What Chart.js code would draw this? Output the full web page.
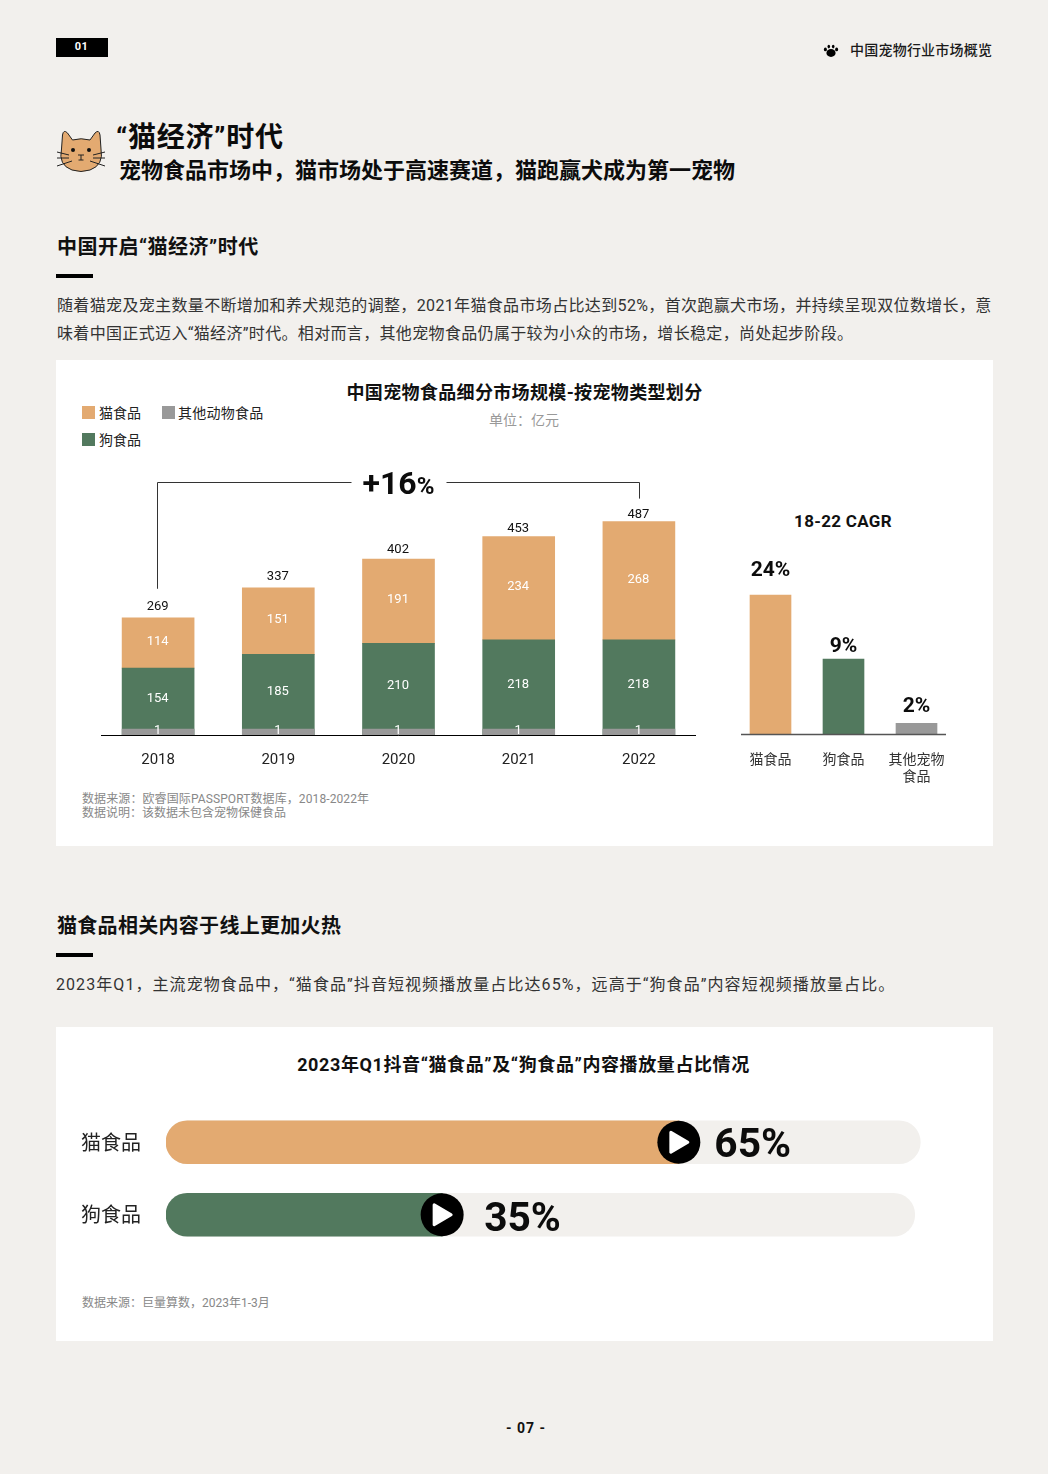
<!DOCTYPE html>
<html lang="zh-CN"><head><meta charset="utf-8">
<script src="https://cdn.jsdelivr.net/npm/chart.js@4/dist/chart.umd.min.js"></script>
<style>
html,body{margin:0;padding:0;background:#f2f0ed;}
#page{position:relative;width:1048px;height:1474px;overflow:hidden;background:#f2f0ed;font-family:Roboto,"Noto Sans CJK SC",sans-serif;color:#111;}
.t{position:absolute;white-space:nowrap;line-height:24px;height:24px;}
.c{transform:translateX(-50%);}
.card{position:absolute;left:56px;width:937px;background:#fff;}
.rule{position:absolute;left:56px;width:37px;height:4px;background:#000;}
.b{font-weight:700;}
.m{font-weight:500;}
.sw{position:absolute;width:13px;height:13px;}
canvas{position:absolute;display:block;}
svg{position:absolute;}
</style></head><body>
<div id="page">
<div style="position:absolute;left:56px;top:38px;width:52px;height:19px;background:#000"></div>
<div class="t b c" style="left:81.5px;top:35px;color:#fff;font-size:11px;letter-spacing:.5px">01</div>
<svg style="left:822px;top:42px" width="18" height="17" viewBox="0 0 18 17"><g fill="#000"><ellipse cx="9" cy="11" rx="4.6" ry="3.9"/><ellipse cx="3.4" cy="7.4" rx="1.5" ry="1.9"/><ellipse cx="14.6" cy="7.4" rx="1.5" ry="1.9"/><ellipse cx="6.8" cy="4.6" rx="1.3" ry="1.8"/><ellipse cx="11.2" cy="4.6" rx="1.3" ry="1.8"/></g></svg>
<div class="t m" style="left:850px;top:38px;font-size:14px;letter-spacing:.22px;color:#1a1a1a">中国宠物行业市场概览</div>

<svg style="left:0;top:0" width="120" height="180" viewBox="0 0 120 180"><path d="M62.5 135Q63.5 129 67.5 133L72.5 140Q81 137.500 90 140L95 133Q99 129 100 135L101 149Q104 165 90 170Q81 173 72 170Q58 165 61.500 149Z" fill="#e3aa71" stroke="#222" stroke-width="1"/><circle cx="73" cy="150" r="2" fill="#111"/><circle cx="89" cy="150" r="2" fill="#111"/><path d="M78 155H84M81 155V160M78.5 160H83.5M57 152L69 155M57 158L69 158M57 166L72 161M105 152L93 155M105 158L93 158M105 166L90 161" stroke="#222" stroke-width="1" fill="none"/></svg>
<div class="t b" style="left:116px;top:126px;font-size:28px;letter-spacing:.7px;color:#0c0c0c">“猫经济”时代</div>
<div class="t b" style="left:119px;top:159px;font-size:22px;color:#0c0c0c">宠物食品市场中，猫市场处于高速赛道，猫跑赢犬成为第一宠物</div>

<div class="t b" style="left:57px;top:235px;font-size:20px;letter-spacing:.5px;color:#111">中国开启“猫经济”时代</div>
<div class="rule" style="top:274px"></div>
<div class="t" style="left:57px;top:294px;font-size:16px;letter-spacing:.35px;color:#333">随着猫宠及宠主数量不断增加和养犬规范的调整，2021年猫食品市场占比达到52%，首次跑赢犬市场，并持续呈现双位数增长，意</div>
<div class="t" style="left:57px;top:322px;font-size:16px;letter-spacing:.34px;color:#333">味着中国正式迈入“猫经济”时代。相对而言，其他宠物食品仍属于较为小众的市场，增长稳定，尚处起步阶段。</div>

<div class="card" style="top:360px;height:486px"></div>
<div class="t b c" style="left:524.5px;top:381px;font-size:18px;letter-spacing:.35px;color:#111">中国宠物食品细分市场规模-按宠物类型划分</div>
<div class="t c" style="left:524px;top:408px;font-size:14px;color:#999">单位：亿元</div>
<div id="legend"></div>
<div class="t b c" style="left:843px;top:509px;font-size:17px;letter-spacing:.3px;color:#111">18-22 CAGR</div>
<canvas id="stack" style="left:98px;top:470px"></canvas>
<canvas id="cagr" style="left:734px;top:560px"></canvas>
<div class="t" style="left:82px;top:787px;font-size:12px;letter-spacing:.1px;color:#888">数据来源：欧睿国际PASSPORT数据库，2018-2022年</div>
<div class="t" style="left:82px;top:801px;font-size:12px;color:#888">数据说明：该数据未包含宠物保健食品</div>

<div class="t b" style="left:57px;top:914px;font-size:20px;letter-spacing:.3px;color:#111">猫食品相关内容于线上更加火热</div>
<div class="rule" style="top:953px"></div>
<div class="t" style="left:56px;top:973px;font-size:16px;letter-spacing:1.07px;color:#333">2023年Q1，主流宠物食品中，“猫食品”抖音短视频播放量占比达65%，远高于“狗食品”内容短视频播放量占比。</div>

<div class="card" style="top:1027px;height:314px"></div>
<div class="t b c" style="left:523.5px;top:1053px;font-size:18px;letter-spacing:.6px;color:#111">2023年Q1抖音“猫食品”及“狗食品”内容播放量占比情况</div>
<canvas id="share" style="left:56px;top:1106px"></canvas>
<div class="t" style="left:82px;top:1291px;font-size:12px;color:#888">数据来源：巨量算数，2023年1-3月</div>
<div class="t b c" style="left:526px;top:1416px;font-size:14px;letter-spacing:1px;color:#111">- 07 -</div>
</div>
<script>
// ---- data ----
const years = ['2018','2019','2020','2021','2022'];
const catFood = [114,151,191,234,268];
const dogFood = [154,185,210,218,218];
const otherFood = [1,1,1,1,1];
const totals = [269,337,402,453,487];
const growthLabel = '+16';
const cagrCategories = ['猫食品','狗食品',['其他宠物','食品']];
const cagrBars = [24,13,2];           // bar heights as drawn in the picture
const cagrLabels = ['24%','9%','2%']; // printed values
const shareCategories = ['猫食品','狗食品'];
const shareValues = [65,35];
const shareTrack = [95.6,94.9];
const legendNames = ['猫食品','其他动物食品','狗食品'];

const ORANGE='#e3aa71', GREEN='#52795e', GREY='#999999';
const LATIN='Roboto,"Noto Sans CJK SC",sans-serif';
const CJK='"Noto Sans CJK SC",sans-serif';
Chart.defaults.font.family=LATIN;
Chart.defaults.animation=false;
Chart.defaults.responsive=false;
Chart.defaults.devicePixelRatio=1;
Chart.defaults.plugins.legend.display=false;
Chart.defaults.plugins.tooltip.enabled=false;

// legend
(function(){
  const host=document.getElementById('legend');
  const cols={[legendNames[0]]:ORANGE,[legendNames[1]]:GREY,[legendNames[2]]:GREEN};
  const pos=[[82,406,.0],[162,406,.25],[82,433,.0]];
  legendNames.forEach((n,i)=>{
    const p=pos[i];
    host.insertAdjacentHTML('beforeend','<div class="sw" style="left:'+p[0]+'px;top:'+p[1]+'px;background:'+cols[n]+'"></div><div class="t" style="left:'+(p[0]+(i===1?16:17))+'px;top:'+(p[1]-5)+'px;font-size:14px;letter-spacing:'+p[2]+'px;color:#222">'+n+'</div>');
  });
})();

function sized(id,w,h){const c=document.getElementById(id);c.width=w;c.height=h;c.style.width=w+'px';c.style.height=h+'px';return c;}
function noEdgePadding(s){s.paddingLeft=0;s.paddingRight=0;s.paddingTop=0;s.paddingBottom=0;}

const stackLabels={id:'stackLabels',afterDatasetsDraw(chart){
  const {ctx,chartArea:a,scales:{x}}=chart;
  const totalGaps=[11.5,11.5,9.5,8,6.5];
  ctx.save();
  ctx.strokeStyle='#000';ctx.lineWidth=1;ctx.beginPath();ctx.moveTo(a.left+3,a.bottom-.5);ctx.lineTo(a.right-3,a.bottom-.5);ctx.stroke();
  ctx.textAlign='center';ctx.textBaseline='middle';
  chart.data.datasets.forEach((ds,di)=>{
    chart.getDatasetMeta(di).data.forEach((bar,i)=>{
      ctx.fillStyle='#fff';ctx.font='13px '+LATIN;
      const yy=di===0?a.bottom-5:(di===1?(bar.y+a.bottom-7)/2:(bar.y+bar.base)/2-1);
      ctx.fillText(String(ds.data[i]),bar.x-.5,yy);
    });
  });
  const top=chart.getDatasetMeta(2).data;
  ctx.fillStyle='#111';ctx.font='13px '+LATIN;
  top.forEach((bar,i)=>ctx.fillText(String(totals[i]),bar.x-.5,bar.y-totalGaps[i]));
  // growth bracket
  const yB=12.5, xL=Math.round(top[0].x)-.5, xR=Math.round(top[4].x)+.5;
  const mid=x.getPixelForValue(2);
  ctx.strokeStyle='#333';ctx.beginPath();
  ctx.moveTo(xL,top[0].y-29);ctx.lineTo(xL,yB);ctx.lineTo(mid-47,yB);
  ctx.moveTo(mid+48,yB);ctx.lineTo(xR,yB);ctx.lineTo(xR,top[4].y-23);ctx.stroke();
  ctx.fillStyle='#0c0c0c';ctx.textAlign='left';ctx.textBaseline='alphabetic';
  ctx.font='700 32px '+LATIN;const w1=ctx.measureText(growthLabel).width;
  ctx.font='700 24px '+LATIN;const w2=ctx.measureText('%').width;
  const sx=mid-(w1+w2)/2;
  ctx.font='700 32px '+LATIN;ctx.fillText(growthLabel,sx,24);
  ctx.font='700 24px '+LATIN;ctx.fillText('%',sx+w1,24);
  ctx.restore();
}};

new Chart(sized('stack',601,302),{type:'bar',data:{labels:years,datasets:[
  {label:legendNames[1],data:otherFood,backgroundColor:GREY,minBarLength:7,barThickness:72,stack:'base',grouped:false},
  {label:legendNames[2],data:dogFood,backgroundColor:GREEN,barThickness:72,stack:'main',grouped:false},
  {label:legendNames[0],data:catFood,backgroundColor:ORANGE,barThickness:72,stack:'main',grouped:false}
]},options:{layout:{padding:0},scales:{
  x:{stacked:true,afterFit:s=>{s.height=36;noEdgePadding(s)},grid:{display:false,drawTicks:false},border:{display:false},ticks:{color:'#222',font:{size:15},padding:15,maxRotation:0}},
  y:{stacked:true,display:false,min:0,max:603}
}},plugins:[stackLabels]});

const cagrPlugin={id:'cagrPlugin',afterDatasetsDraw(chart){
  const {ctx,chartArea:a}=chart;
  const gaps=[24,12,17];
  ctx.save();
  ctx.strokeStyle='#555';ctx.lineWidth=1.5;ctx.beginPath();ctx.moveTo(a.left+7,a.bottom-.5);ctx.lineTo(a.right-7,a.bottom-.5);ctx.stroke();
  ctx.fillStyle='#0c0c0c';ctx.font='700 21px '+LATIN;ctx.textAlign='center';ctx.textBaseline='middle';
  chart.getDatasetMeta(0).data.forEach((bar,i)=>ctx.fillText(cagrLabels[i],bar.x,bar.y-gaps[i]));
  ctx.restore();
}};
new Chart(sized('cagr',219,230),{type:'bar',data:{labels:cagrCategories,datasets:[
  {label:'18-22 CAGR',data:cagrBars,backgroundColor:[ORANGE,GREEN,GREY],barThickness:41}
]},options:{layout:{padding:0},scales:{
  x:{afterFit:s=>{s.height=55;noEdgePadding(s)},grid:{display:false,drawTicks:false},border:{display:false},ticks:{color:'#333',font:{size:14,lineHeight:1.2,family:CJK},padding:15,maxRotation:0,autoSkip:false}},
  y:{display:false,min:0,max:30}
}},plugins:[cagrPlugin]});

const sharePlugin={id:'sharePlugin',afterDatasetsDraw(chart){
  const {ctx}=chart;
  const textX=[35.5,42];
  ctx.save();
  chart.getDatasetMeta(0).data.forEach((bar,i)=>{
    ctx.fillStyle='#000';ctx.beginPath();ctx.arc(bar.x,bar.y,21.5,0,Math.PI*2);ctx.fill();
    ctx.fillStyle='#fff';ctx.strokeStyle='#fff';ctx.lineWidth=3;ctx.lineJoin='round';
    ctx.beginPath();ctx.moveTo(bar.x-8,bar.y-10);ctx.lineTo(bar.x+9,bar.y);ctx.lineTo(bar.x-8,bar.y+10);ctx.closePath();ctx.fill();ctx.stroke();
    ctx.save();
    ctx.translate(bar.x+textX[i],bar.y+(i?16.5:14.5));
    ctx.scale(1.07,1.05);
    ctx.fillStyle='#0c0c0c';ctx.font='700 38px '+LATIN;ctx.textAlign='left';ctx.textBaseline='alphabetic';
    ctx.fillText(shareValues[i]+'%',0,0);
    ctx.restore();
  });
  ctx.restore();
}};
const leftRound={topLeft:21.5,bottomLeft:21.5,topRight:0,bottomRight:0};
new Chart(sized('share',899,145),{type:'bar',data:{labels:shareCategories,datasets:[
  {label:'播放量占比',data:shareValues,backgroundColor:[ORANGE,GREEN],barThickness:43,borderRadius:leftRound,borderSkipped:false,grouped:false},
  {label:'轨道',data:shareTrack,backgroundColor:'#f2f0ed',barThickness:43,borderRadius:21.5,borderSkipped:false,grouped:false}
]},options:{indexAxis:'y',layout:{padding:0},scales:{
  x:{display:false,min:0,max:100},
  y:{afterFit:s=>{s.width=110;noEdgePadding(s)},grid:{display:false,drawTicks:false},border:{display:false},ticks:{color:'#222',font:{size:20,family:CJK},padding:25}}
}},plugins:[sharePlugin]});
</script>
</body></html>
